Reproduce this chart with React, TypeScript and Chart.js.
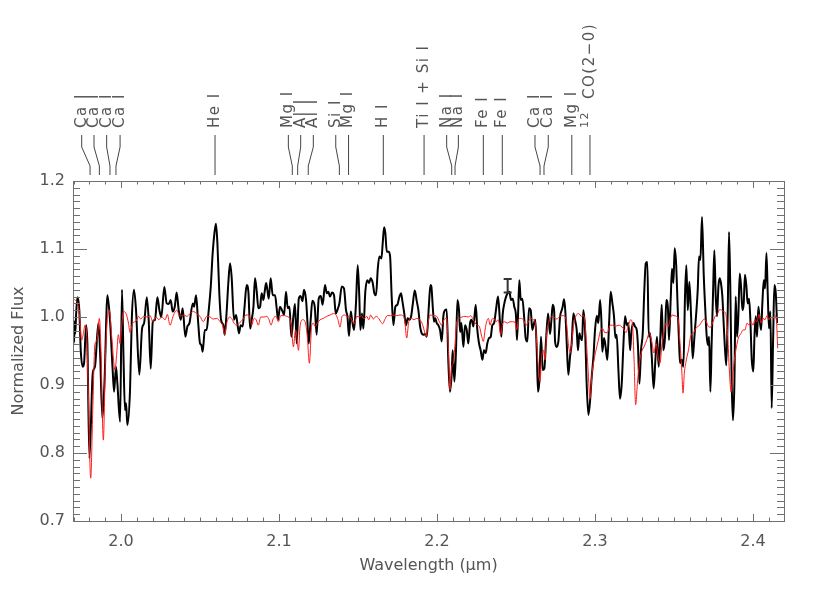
import React, { useEffect, useRef } from "react";
import { Chart, registerables } from "chart.js";

Chart.register(...registerables);

// ---------- data ----------
const X_MIN = 1.9696;
const X_MAX = 2.4196;
const Y_MIN = 0.7;
const Y_MAX = 1.2;
const X_TICKS = [2.0, 2.1, 2.2, 2.3, 2.4];
const Y_TICKS = [0.7, 0.8, 0.9, 1.0, 1.1, 1.2];
const X_TITLE = "Wavelength (\u03bcm)";
const Y_TITLE = "Normalized Flux";

// observed spectrum (black)
const OBS_WAVE = [
  1.9697, 1.9699, 1.9701, 1.9703, 1.9706, 1.9710, 1.9716, 1.9724, 1.9736, 1.9745,
  1.9757, 1.9766, 1.9779, 1.9787, 1.9800, 1.9821, 1.9835, 1.9857, 1.9867, 1.9882,
  1.9895, 1.9914, 1.9930, 1.9947, 1.9956, 1.9968, 1.9977, 1.9994, 2.0006, 2.0015,
  2.0025, 2.0032, 2.0040, 2.0057, 2.0068, 2.0082, 2.0095, 2.0116, 2.0133, 2.0146,
  2.0163, 2.0175, 2.0188, 2.0201, 2.0215, 2.0230, 2.0243, 2.0255, 2.0274, 2.0289,
  2.0302, 2.0314, 2.0327, 2.0340, 2.0352, 2.0365, 2.0378, 2.0390, 2.0407, 2.0420,
  2.0433, 2.0454, 2.0462, 2.0475, 2.0487, 2.0500, 2.0508, 2.0517, 2.0530, 2.0542,
  2.0553, 2.0568, 2.0580, 2.0591, 2.0601, 2.0610, 2.0622, 2.0633, 2.0648, 2.0656,
  2.0669, 2.0679, 2.0690, 2.0700, 2.0715, 2.0728, 2.0736, 2.0747, 2.0757, 2.0770,
  2.0781, 2.0795, 2.0806, 2.0817, 2.0827, 2.0838, 2.0848, 2.0859, 2.0869, 2.0880,
  2.0890, 2.0901, 2.0909, 2.0918, 2.0926, 2.0935, 2.0947, 2.0960, 2.0975, 2.0985,
  2.0994, 2.1006, 2.1019, 2.1032, 2.1044, 2.1055, 2.1066, 2.1078, 2.1091, 2.1101,
  2.1112, 2.1125, 2.1137, 2.1148, 2.1158, 2.1171, 2.1179, 2.1188, 2.1200, 2.1211,
  2.1226, 2.1238, 2.1251, 2.1264, 2.1276, 2.1291, 2.1302, 2.1312, 2.1323, 2.1335,
  2.1348, 2.1359, 2.1369, 2.1382, 2.1397, 2.1411, 2.1424, 2.1433, 2.1443, 2.1454,
  2.1462, 2.1475, 2.1487, 2.1498, 2.1508, 2.1515, 2.1525, 2.1534, 2.1546, 2.1559,
  2.1570, 2.1580, 2.1593, 2.1603, 2.1614, 2.1625, 2.1635, 2.1648, 2.1656, 2.1665,
  2.1673, 2.1682, 2.1694, 2.1703, 2.1713, 2.1724, 2.1736, 2.1749, 2.1762, 2.1772,
  2.1781, 2.1791, 2.1804, 2.1814, 2.1825, 2.1836, 2.1846, 2.1859, 2.1872, 2.1882,
  2.1893, 2.1903, 2.1914, 2.1924, 2.1935, 2.1948, 2.1958, 2.1964, 2.1973, 2.1981,
  2.1989, 2.1998, 2.2008, 2.2019, 2.2030, 2.2040, 2.2051, 2.2061, 2.2072, 2.2082,
  2.2093, 2.2099, 2.2110, 2.2120, 2.2129, 2.2139, 2.2146, 2.2154, 2.2167, 2.2177,
  2.2188, 2.2198, 2.2209, 2.2219, 2.2230, 2.2245, 2.2255, 2.2266, 2.2276, 2.2287,
  2.2297, 2.2308, 2.2318, 2.2329, 2.2340, 2.2350, 2.2361, 2.2373, 2.2386, 2.2399,
  2.2407, 2.2416, 2.2426, 2.2437, 2.2447, 2.2458, 2.2468, 2.2479, 2.2489, 2.2500,
  2.2506, 2.2513, 2.2521, 2.2530, 2.2540, 2.2551, 2.2561, 2.2572, 2.2582, 2.2593,
  2.2603, 2.2614, 2.2622, 2.2631, 2.2639, 2.2648, 2.2658, 2.2669, 2.2679, 2.2690,
  2.2703, 2.2715, 2.2724, 2.2732, 2.2741, 2.2747, 2.2757, 2.2768, 2.2779, 2.2789,
  2.2795, 2.2804, 2.2812, 2.2821, 2.2831, 2.2842, 2.2852, 2.2863, 2.2873, 2.2884,
  2.2892, 2.2901, 2.2909, 2.2918, 2.2926, 2.2937, 2.2947, 2.2958, 2.2968, 2.2979,
  2.2990, 2.3000, 2.3011, 2.3021, 2.3032, 2.3040, 2.3046, 2.3057, 2.3067, 2.3078,
  2.3089, 2.3099, 2.3110, 2.3120, 2.3129, 2.3137, 2.3148, 2.3158, 2.3169, 2.3179,
  2.3190, 2.3201, 2.3211, 2.3222, 2.3230, 2.3243, 2.3253, 2.3264, 2.3272, 2.3281,
  2.3291, 2.3302, 2.3312, 2.3321, 2.3331, 2.3340, 2.3348, 2.3359, 2.3371, 2.3382,
  2.3392, 2.3403, 2.3413, 2.3422, 2.3432, 2.3443, 2.3451, 2.3462, 2.3468, 2.3479,
  2.3487, 2.3496, 2.3504, 2.3513, 2.3523, 2.3532, 2.3538, 2.3549, 2.3559, 2.3570,
  2.3578, 2.3587, 2.3597, 2.3608, 2.3618, 2.3629, 2.3639, 2.3650, 2.3658, 2.3667,
  2.3677, 2.3688, 2.3698, 2.3707, 2.3715, 2.3722, 2.3730, 2.3738, 2.3747, 2.3755,
  2.3764, 2.3772, 2.3781, 2.3789, 2.3797, 2.3806, 2.3814, 2.3823, 2.3831, 2.3840,
  2.3848, 2.3856, 2.3865, 2.3873, 2.3882, 2.3890, 2.3899, 2.3907, 2.3916, 2.3924,
  2.3933, 2.3941, 2.3949, 2.3958, 2.3966, 2.3975, 2.3983, 2.3992, 2.4002, 2.4009,
  2.4017, 2.4025, 2.4034, 2.4042, 2.4051, 2.4059, 2.4068, 2.4076, 2.4085, 2.4093,
  2.4101, 2.4110, 2.4118, 2.4127, 2.4135, 2.4144, 2.4152,
];
const OBS_FLUX = [
  0.975, 0.960, 0.995, 0.963, 0.990, 0.975, 1.005, 1.029, 1.010, 0.951,
  0.927, 0.932, 0.988, 0.961, 0.792, 0.917, 0.927, 0.991, 0.951, 0.851,
  0.902, 1.032, 0.996, 0.922, 0.890, 0.927, 0.902, 0.846, 1.040, 0.947,
  0.863, 0.873, 0.841, 0.893, 0.996, 1.040, 1.010, 0.915, 0.983, 0.991,
  1.029, 0.996, 0.924, 0.993, 0.996, 1.029, 1.010, 1.000, 1.044, 1.020,
  1.019, 1.025, 1.008, 1.015, 1.036, 1.010, 0.996, 1.013, 0.971, 0.986,
  0.991, 1.020, 1.015, 1.032, 0.996, 0.961, 0.959, 0.949, 0.981, 0.981,
  1.005, 1.045, 1.094, 1.123, 1.137, 1.108, 1.035, 0.996, 0.988, 0.974,
  1.010, 1.050, 1.079, 1.059, 0.996, 1.003, 0.991, 0.976, 0.988, 0.986,
  1.013, 1.047, 1.037, 0.983, 0.996, 1.015, 1.057, 1.037, 1.013, 1.015,
  1.035, 1.025, 1.037, 1.050, 1.040, 1.027, 1.057, 1.032, 1.032, 1.013,
  0.996, 1.015, 1.010, 1.003, 1.037, 1.013, 1.015, 0.971, 1.001, 1.019,
  0.961, 1.027, 1.031, 1.023, 1.040, 1.025, 0.996, 0.961, 0.995, 1.024,
  1.015, 0.974, 1.027, 1.031, 1.018, 1.047, 1.035, 1.037, 1.030, 1.036,
  1.032, 1.005, 1.010, 1.020, 1.045, 1.042, 1.010, 1.001, 0.972, 1.008,
  0.996, 0.981, 1.020, 1.076, 1.030, 0.981, 1.005, 0.983, 1.037, 1.054,
  1.050, 1.057, 1.050, 1.035, 1.032, 1.071, 1.089, 1.086, 1.108, 1.132,
  1.123, 1.096, 1.096, 1.089, 1.030, 0.988, 1.015, 1.018, 1.030, 1.035,
  1.023, 1.008, 0.988, 0.998, 0.996, 1.001, 1.018, 1.039, 1.023, 1.010,
  0.986, 0.976, 0.974, 0.975, 0.971, 1.015, 1.047, 1.045, 1.015, 0.993,
  0.998, 0.991, 0.988, 0.981, 0.964, 1.001, 1.010, 1.011, 0.932, 0.890,
  0.917, 0.951, 0.905, 0.951, 1.025, 1.010, 0.978, 0.991, 0.956, 0.988,
  0.981, 0.961, 0.991, 0.996, 0.986, 1.018, 0.981, 0.961, 0.951, 0.937,
  0.951, 0.947, 0.961, 0.969, 0.971, 0.988, 0.991, 1.010, 1.030, 0.991,
  0.971, 1.005, 1.020, 1.030, 1.035, 1.037, 1.025, 1.027, 1.015, 1.001,
  0.966, 1.005, 1.054, 1.025, 1.027, 1.001, 0.969, 0.964, 1.013, 1.010,
  0.981, 0.991, 0.996, 0.951, 0.890, 0.907, 0.971, 0.922, 0.924, 0.966,
  1.005, 0.975, 0.996, 1.018, 1.010, 0.964, 0.956, 0.964, 1.001, 1.010,
  1.015, 1.026, 1.008, 0.961, 0.915, 0.942, 0.961, 1.005, 0.996, 0.981,
  0.951, 0.976, 0.969, 0.966, 1.010, 0.981, 0.902, 0.856, 0.875, 0.912,
  0.942, 0.981, 1.002, 0.991, 1.025, 0.996, 0.949, 0.969, 0.956, 0.937,
  0.991, 1.037, 1.020, 1.001, 0.969, 0.974, 0.922, 0.880, 0.902, 0.956,
  1.001, 0.988, 0.991, 0.951, 0.978, 0.991, 0.986, 0.981, 0.956, 0.902,
  0.951, 0.976, 1.040, 1.079, 1.081, 0.971, 0.976, 0.942, 0.895, 0.937,
  0.971, 0.927, 0.969, 1.018, 0.951, 0.971, 1.025, 1.010, 0.966, 1.027,
  1.071, 1.050, 1.101, 1.079, 1.015, 0.961, 0.932, 0.937, 0.927, 1.035,
  1.076, 1.010, 1.052, 1.001, 0.939, 0.971, 1.001, 1.040, 1.089, 1.084,
  1.147, 1.062, 1.010, 0.971, 0.959, 0.971, 0.890, 0.961, 1.035, 1.098,
  1.030, 1.001, 1.045, 1.057, 1.050, 1.030, 0.991, 0.951, 0.929, 1.010,
  1.125, 1.045, 0.902, 0.848, 0.902, 1.030, 0.971, 1.001, 1.064, 1.045,
  1.010, 1.020, 1.062, 1.045, 1.020, 1.027, 0.996, 0.937, 0.920, 0.971,
  1.001, 0.971, 1.015, 0.996, 0.981, 1.020, 1.054, 1.042, 1.094, 1.035,
  0.983, 1.008, 0.866, 0.966, 1.047, 1.035, 0.991,
];

// model spectrum (red)
const MODEL_WAVE = [
  1.9703, 1.9724, 1.9736, 1.9751, 1.9762, 1.9772, 1.9783, 1.9793, 1.9808, 1.9821,
  1.9835, 1.9846, 1.9863, 1.9873, 1.9888, 1.9901, 1.9916, 1.9926, 1.9941, 1.9962,
  1.9973, 1.9983, 1.9994, 2.0004, 2.0015, 2.0032, 2.0047, 2.0057, 2.0074, 2.0095,
  2.0110, 2.0125, 2.0142, 2.0167, 2.0184, 2.0201, 2.0222, 2.0239, 2.0258, 2.0279,
  2.0293, 2.0310, 2.0331, 2.0352, 2.0373, 2.0395, 2.0416, 2.0437, 2.0458, 2.0479,
  2.0500, 2.0521, 2.0542, 2.0563, 2.0584, 2.0606, 2.0627, 2.0643, 2.0656, 2.0669,
  2.0686, 2.0700, 2.0715, 2.0732, 2.0749, 2.0770, 2.0791, 2.0812, 2.0827, 2.0842,
  2.0855, 2.0869, 2.0884, 2.0905, 2.0922, 2.0937, 2.0949, 2.0964, 2.0981, 2.0996,
  2.1011, 2.1032, 2.1049, 2.1066, 2.1078, 2.1091, 2.1104, 2.1112, 2.1123, 2.1133,
  2.1150, 2.1165, 2.1179, 2.1192, 2.1207, 2.1217, 2.1228, 2.1243, 2.1260, 2.1281,
  2.1302, 2.1323, 2.1344, 2.1361, 2.1373, 2.1386, 2.1399, 2.1416, 2.1433, 2.1445,
  2.1460, 2.1477, 2.1492, 2.1508, 2.1523, 2.1538, 2.1555, 2.1568, 2.1580, 2.1597,
  2.1614, 2.1631, 2.1644, 2.1656, 2.1669, 2.1686, 2.1707, 2.1724, 2.1745, 2.1766,
  2.1783, 2.1795, 2.1808, 2.1821, 2.1838, 2.1855, 2.1872, 2.1889, 2.1905, 2.1918,
  2.1931, 2.1943, 2.1956, 2.1977, 2.1998, 2.2015, 2.2029, 2.2044, 2.2061, 2.2072,
  2.2082, 2.2093, 2.2103, 2.2114, 2.2124, 2.2141, 2.2158, 2.2177, 2.2198, 2.2213,
  2.2226, 2.2241, 2.2255, 2.2268, 2.2283, 2.2293, 2.2304, 2.2314, 2.2325, 2.2336,
  2.2346, 2.2361, 2.2373, 2.2388, 2.2403, 2.2416, 2.2428, 2.2445, 2.2462, 2.2479,
  2.2494, 2.2504, 2.2515, 2.2530, 2.2546, 2.2563, 2.2578, 2.2593, 2.2610, 2.2622,
  2.2631, 2.2641, 2.2652, 2.2662, 2.2673, 2.2683, 2.2694, 2.2707, 2.2715, 2.2736,
  2.2757, 2.2779, 2.2800, 2.2817, 2.2831, 2.2842, 2.2852, 2.2863, 2.2880, 2.2897,
  2.2914, 2.2930, 2.2943, 2.2956, 2.2968, 2.2981, 2.2994, 2.3006, 2.3021, 2.3036,
  2.3049, 2.3061, 2.3078, 2.3095, 2.3112, 2.3129, 2.3146, 2.3162, 2.3179, 2.3196,
  2.3211, 2.3226, 2.3238, 2.3247, 2.3257, 2.3268, 2.3281, 2.3295, 2.3310, 2.3327,
  2.3344, 2.3359, 2.3373, 2.3386, 2.3399, 2.3411, 2.3424, 2.3437, 2.3449, 2.3462,
  2.3475, 2.3487, 2.3500, 2.3517, 2.3527, 2.3538, 2.3549, 2.3557, 2.3565, 2.3578,
  2.3591, 2.3608, 2.3622, 2.3637, 2.3650, 2.3662, 2.3675, 2.3692, 2.3705, 2.3717,
  2.3730, 2.3743, 2.3760, 2.3776, 2.3789, 2.3802, 2.3814, 2.3827, 2.3840, 2.3850,
  2.3861, 2.3871, 2.3882, 2.3895, 2.3907, 2.3924, 2.3937, 2.3949, 2.3962, 2.3975,
  2.3987, 2.4000, 2.4013, 2.4025, 2.4038, 2.4051, 2.4063, 2.4076, 2.4089, 2.4101,
  2.4114, 2.4127, 2.4139, 2.4148, 2.4156,
];
const MODEL_FLUX = [
  1.026, 1.020, 1.005, 0.966, 0.976, 0.988, 0.971, 0.888, 0.763, 0.863,
  0.961, 0.964, 0.998, 0.951, 0.819, 0.937, 1.005, 1.010, 0.971, 0.922,
  0.947, 0.974, 0.961, 0.986, 1.008, 1.005, 0.991, 0.977, 0.991, 0.994,
  1.001, 0.997, 1.001, 1.000, 1.002, 0.993, 1.000, 0.996, 1.000, 0.996,
  1.004, 0.988, 1.002, 1.010, 1.001, 1.003, 1.001, 1.005, 1.008, 1.005,
  1.001, 0.993, 1.001, 1.000, 0.997, 0.998, 0.993, 0.988, 0.974, 0.991,
  1.000, 0.998, 0.991, 0.988, 0.991, 0.996, 1.003, 1.002, 0.988, 0.998,
  0.996, 0.988, 1.000, 1.000, 1.001, 0.996, 0.988, 0.998, 1.001, 0.993,
  1.002, 1.002, 1.001, 0.998, 0.986, 0.956, 0.981, 0.974, 0.951, 0.986,
  0.996, 0.993, 0.971, 0.932, 0.988, 0.991, 0.986, 0.991, 0.996, 0.998,
  1.001, 1.003, 1.005, 1.003, 0.996, 0.985, 1.001, 1.003, 1.000, 1.001,
  0.996, 0.990, 1.001, 1.000, 1.002, 0.997, 1.001, 0.996, 1.003, 0.997,
  1.001, 0.998, 0.993, 0.990, 0.996, 1.002, 1.002, 1.003, 1.002, 1.003,
  1.002, 0.996, 0.969, 0.993, 0.998, 0.996, 0.998, 0.996, 0.991, 0.981,
  0.971, 0.991, 1.003, 1.002, 1.001, 0.993, 0.988, 0.996, 0.998, 0.951,
  0.893, 0.927, 0.932, 0.961, 0.991, 0.998, 1.000, 1.001, 1.000, 1.002,
  0.998, 0.991, 0.988, 0.986, 0.971, 0.964, 0.981, 0.993, 0.998, 0.988,
  0.996, 0.998, 0.993, 0.996, 0.974, 0.991, 0.993, 0.991, 0.993, 0.993,
  0.992, 0.981, 0.996, 0.998, 0.996, 0.988, 0.993, 0.998, 0.996, 0.991,
  0.961, 0.927, 0.905, 0.942, 0.951, 0.937, 0.976, 0.993, 0.998, 1.001,
  0.997, 1.001, 1.002, 0.996, 0.961, 0.947, 0.961, 0.986, 1.002, 1.005,
  1.001, 1.002, 0.971, 0.922, 0.880, 0.917, 0.937, 0.951, 0.966, 0.981,
  0.983, 0.977, 0.977, 0.988, 0.988, 0.986, 0.988, 0.987, 0.983, 0.977,
  0.988, 0.996, 0.986, 0.937, 0.871, 0.902, 0.932, 0.949, 0.956, 0.966,
  0.976, 0.964, 0.947, 0.961, 0.942, 0.932, 0.961, 0.981, 0.991, 0.986,
  0.996, 1.003, 1.002, 1.001, 0.996, 0.961, 0.922, 0.888, 0.917, 0.937,
  0.951, 0.974, 0.976, 0.983, 0.986, 0.988, 0.993, 0.997, 0.993, 0.986,
  0.985, 0.991, 1.001, 1.005, 1.011, 1.010, 1.008, 1.005, 0.971, 0.922,
  0.890, 0.912, 0.937, 0.956, 0.969, 0.976, 0.981, 0.981, 0.991, 0.988,
  0.993, 0.988, 0.996, 0.993, 1.004, 0.991, 0.998, 0.996, 1.002, 0.996,
  1.000, 0.998, 1.003, 0.996, 0.954,
];

// representative error bar
const ERR_WAVE = 2.2447;
const ERR_LOW = 1.036;
const ERR_HIGH = 1.056;

// line identifications: label text, line wavelength, label wavelength
const LINE_NAMES = [
  "Ca I", "Ca I", "Ca I", "Ca I", "He I", "Mg I", "Al I", "Al I", "Si I", "Mg I",
  "H I", "Ti I + Si I", "Na I", "Na I", "Fe I", "Fe I", "Ca I", "Ca I", "Mg I", "CO(2\u22120)",
];
const LINE_WAVE = [
  1.9804, 1.9863, 1.9930, 1.9968, 2.0595, 2.1084, 2.1118, 2.1185, 2.1382, 2.1440,
  2.1660, 2.1918, 2.2093, 2.2114, 2.2293, 2.2413, 2.2652, 2.2677, 2.2853, 2.2968,
];
const LABEL_WAVE = [
  1.9751, 1.9829, 1.9909, 1.9994, 2.0595, 2.1059, 2.1137, 2.1217, 2.1359, 2.1440,
  2.1660, 2.1918, 2.2061, 2.2135, 2.2293, 2.2413, 2.2620, 2.2704, 2.2853, 2.2968,
];
const LINE_PREFIX = ["", "", "", "", "", "", "", "", "", "", "", "", "", "", "", "", "", "", "", "12"];

// ---------- styles ----------
const FONT_FAMILY = '"DejaVu Sans", "Liberation Sans", sans-serif';
const AXIS_COLOR = "#707070";
const TEXT_COLOR = "#555555";

const idlPlugin = {
  id: "idlDecor",
  afterDraw(chart: any) {
    const { ctx, chartArea: a, scales } = chart;
    const xs = scales.x;
    const ys = scales.y;
    ctx.save();
    // frame
    ctx.strokeStyle = AXIS_COLOR;
    ctx.lineWidth = 1;
    ctx.strokeRect(Math.round(a.left) + 0.5, Math.round(a.top) + 0.5,
      Math.round(a.right - a.left), Math.round(a.bottom - a.top));
    // x ticks (inward on bottom and top)
    const xMajorLen = 7, xMinorLen = 3.5;
    for (let k = Math.ceil(xs.min * 100); k <= Math.floor(xs.max * 100); k++) {
      const px = Math.round(xs.getPixelForValue(k / 100)) + 0.5;
      const len = k % 10 === 0 ? xMajorLen : xMinorLen;
      ctx.beginPath();
      ctx.moveTo(px, a.bottom);
      ctx.lineTo(px, a.bottom - len);
      ctx.moveTo(px, a.top);
      ctx.lineTo(px, a.top + len);
      ctx.stroke();
    }
    // y ticks (inward on left and right)
    const yMajorLen = 14, yMinorLen = 7;
    for (let k = Math.round(ys.min * 100); k <= Math.round(ys.max * 100); k++) {
      const py = Math.round(ys.getPixelForValue(k / 100)) + 0.5;
      const len = k % 10 === 0 ? yMajorLen : yMinorLen;
      ctx.beginPath();
      ctx.moveTo(a.left, py);
      ctx.lineTo(a.left + len, py);
      ctx.moveTo(a.right, py);
      ctx.lineTo(a.right - len, py);
      ctx.stroke();
    }
    // error bar
    const ex = xs.getPixelForValue(ERR_WAVE);
    const eLo = ys.getPixelForValue(ERR_LOW);
    const eHi = ys.getPixelForValue(ERR_HIGH);
    ctx.strokeStyle = "#333333";
    ctx.lineWidth = 2;
    ctx.beginPath();
    ctx.moveTo(ex, eLo);
    ctx.lineTo(ex, eHi);
    ctx.moveTo(ex - 4, eLo);
    ctx.lineTo(ex + 4, eLo);
    ctx.moveTo(ex - 4, eHi);
    ctx.lineTo(ex + 4, eHi);
    ctx.stroke();

    // line identifications
    const top = a.top;
    const yText = top - 53;
    const yL0 = top - 46, yL1 = top - 34, yL2 = top - 15, yL3 = top - 6;
    ctx.strokeStyle = "#444444";
    ctx.lineWidth = 1;
    ctx.fillStyle = TEXT_COLOR;
    for (let i = 0; i < LINE_NAMES.length; i++) {
      const lx = xs.getPixelForValue(LINE_WAVE[i]);
      const tx = xs.getPixelForValue(LABEL_WAVE[i]);
      ctx.beginPath();
      ctx.moveTo(tx, yL0);
      ctx.lineTo(tx, yL1);
      ctx.lineTo(lx, yL2);
      ctx.lineTo(lx, yL3);
      ctx.stroke();
      ctx.save();
      ctx.translate(tx, yText);
      ctx.rotate(-Math.PI / 2);
      ctx.textAlign = "left";
      ctx.textBaseline = "middle";
      (ctx as any).letterSpacing = "1.5px";
      let off = 0;
      if (LINE_PREFIX[i]) {
        ctx.font = `11px ${FONT_FAMILY}`;
        ctx.fillText(LINE_PREFIX[i], 0, -5);
        off = 29;
      }
      ctx.font = `15px ${FONT_FAMILY}`;
      ctx.fillText(LINE_NAMES[i], off, 0);
      ctx.restore();
    }
    ctx.restore();
  },
};

export default function App() {
  const ref = useRef<HTMLCanvasElement>(null);
  useEffect(() => {
    if (!ref.current) return;
    const tickFont = { family: FONT_FAMILY, size: 16 };
    const chart = new Chart(ref.current, {
      type: "scatter",
      data: {
        datasets: [
          {
            label: "model",
            data: MODEL_WAVE.map((w, i) => ({ x: w, y: MODEL_FLUX[i] })),
            showLine: true,
            borderColor: "#ff1a1a",
            borderWidth: 1,
            pointRadius: 0,
            cubicInterpolationMode: "monotone",
            order: 0,
          },
          {
            label: "observed",
            data: OBS_WAVE.map((w, i) => ({ x: w, y: OBS_FLUX[i] })),
            showLine: true,
            borderColor: "#000000",
            borderWidth: 2,
            borderJoinStyle: "round",
            pointRadius: 0,
            cubicInterpolationMode: "monotone",
            order: 1,
          },
        ],
      },
      options: {
        animation: false,
        responsive: false,
        devicePixelRatio: 1,
        layout: { padding: { top: 181, right: 46, left: 0, bottom: 0 } },
        plugins: { legend: { display: false }, tooltip: { enabled: false } },
        scales: {
          x: {
            type: "linear",
            min: X_MIN,
            max: X_MAX,
            afterFit: (s: any) => { s.height = 72; },
            afterBuildTicks: (s: any) => { s.ticks = X_TICKS.map((v) => ({ value: v })); },
            ticks: {
              callback: (v: any) => Number(v).toFixed(1),
              font: tickFont,
              color: TEXT_COLOR,
              padding: 11,
              maxRotation: 0,
              autoSkip: false,
            },
            grid: { display: false, drawTicks: false },
            border: { display: false },
            title: {
              display: true,
              text: X_TITLE,
              font: tickFont,
              color: TEXT_COLOR,
              padding: { top: 0, bottom: 18 },
            },
          },
          y: {
            type: "linear",
            min: Y_MIN,
            max: Y_MAX,
            afterFit: (s: any) => { s.width = 73; },
            afterBuildTicks: (s: any) => { s.ticks = Y_TICKS.map((v) => ({ value: v })); },
            ticks: {
              callback: (v: any) => Number(v).toFixed(1),
              font: tickFont,
              color: TEXT_COLOR,
              padding: 8,
              autoSkip: false,
            },
            grid: { display: false, drawTicks: false },
            border: { display: false },
            title: {
              display: true,
              text: Y_TITLE,
              font: tickFont,
              color: TEXT_COLOR,
              padding: { top: 9, bottom: 0 },
            },
          },
        },
      },
      plugins: [idlPlugin],
    } as any);
    return () => chart.destroy();
  }, []);
  return (
    <div style={{ position: "absolute", left: 0, top: 0, width: 830, height: 593, background: "#ffffff" }}>
      <canvas ref={ref} width={830} height={593} style={{ display: "block", width: 830, height: 593 }} />
    </div>
  );
}
